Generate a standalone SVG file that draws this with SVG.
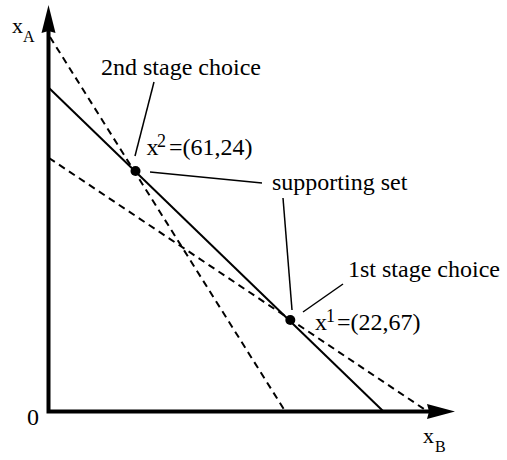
<svg xmlns="http://www.w3.org/2000/svg" width="507" height="460" viewBox="0 0 507 460">
<style>
.ax{stroke:#000;stroke-width:4;fill:none}
.solid{stroke:#000;stroke-width:2;fill:none}
.dash{stroke:#000;stroke-width:2;fill:none;stroke-dasharray:7,5}
.lead{stroke:#000;stroke-width:1.5;fill:none}
</style>
<rect width="507" height="460" fill="#fff"/>
<g id="axes">
<path class="ax" d="M48.5,30 V411.5 H430"/>
<path d="M48.5,5 L55.5,33 L48.5,31 L41.5,33 Z" fill="#000"/>
<path d="M455,411.5 L427,404 L429,411.5 L427,419 Z" fill="#000"/>
</g>
<g id="connectors">
<line class="solid" x1="49" y1="88" x2="383" y2="411"/>
<line class="dash" x1="50" y1="37" x2="285" y2="411"/>
<line class="dash" x1="49" y1="158" x2="427" y2="411"/>
<line class="lead" x1="154" y1="82" x2="135" y2="156"/>
<line class="lead" x1="150" y1="172" x2="262" y2="183"/>
<line class="lead" x1="283" y1="198" x2="292" y2="310"/>
<line class="lead" x1="303" y1="312" x2="343" y2="284"/>
</g>
<g id="x2"><circle cx="135.5" cy="171" r="5"/></g>
<g id="x1"><circle cx="290.3" cy="320" r="5"/></g>
<text id="axis-a" x="12" y="33" font-size="22" font-family="Liberation Serif">x</text>
<text x="23" y="42" font-size="16" font-family="Liberation Serif">A</text>
<text id="origin" x="27" y="425" font-size="24" font-family="Liberation Serif">0</text>
<text id="axis-b" x="423" y="443" font-size="22" font-family="Liberation Serif">x</text>
<text x="435" y="452" font-size="16" font-family="Liberation Serif">B</text>
<text id="x2-label" x="146.5" y="155" font-size="24" font-family="Liberation Serif">x</text>
<text x="157" y="147" font-size="18" font-family="Liberation Serif">2</text>
<text x="169" y="155" font-size="24" font-family="Liberation Serif">=(61,24)</text>
<text id="x1-label" x="315" y="330" font-size="24" font-family="Liberation Serif">x</text>
<text x="326" y="322" font-size="18" font-family="Liberation Serif">1</text>
<text x="337" y="330" font-size="24" font-family="Liberation Serif">=(22,67)</text>
<text id="label-2nd" x="101" y="75" font-size="24" font-family="Liberation Serif">2nd stage choice</text>
<text id="label-supporting" x="272" y="190" font-size="24" font-family="Liberation Serif">supporting set</text>
<text id="label-1st" x="348" y="277" font-size="24" font-family="Liberation Serif">1st stage choice</text>
</svg>
